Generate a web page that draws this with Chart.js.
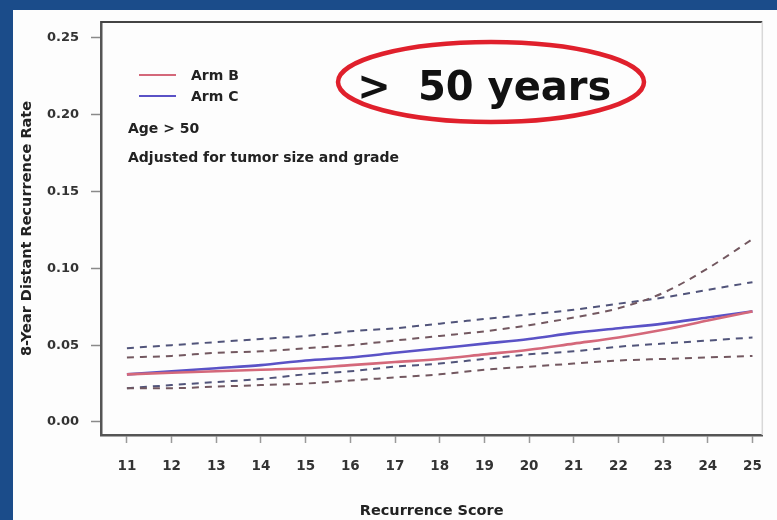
<!DOCTYPE html>
<html>
<head>
<meta charset="utf-8">
<title>8-Year Distant Recurrence Rate by Recurrence Score</title>
<script src="https://cdn.jsdelivr.net/npm/chart.js@4/dist/chart.umd.min.js"></script>
<style>
  html, body { margin: 0; padding: 0; background: #1b4c8a; }
  #wrap { width: 777px; height: 520px; }
</style>
</head>
<body>
<div id="wrap"><canvas id="chart" width="777" height="520"></canvas></div>
<script>
// Recurrence score on the x axis
const scores = [11, 12, 13, 14, 15, 16, 17, 18, 19, 20, 21, 22, 23, 24, 25];

// Estimated 8-year distant recurrence rate, age > 50
const armB      = [0.031, 0.032, 0.033, 0.034, 0.035, 0.037, 0.039, 0.041, 0.044, 0.047, 0.051, 0.055, 0.060, 0.066, 0.072];
const armC      = [0.031, 0.033, 0.035, 0.037, 0.040, 0.042, 0.045, 0.048, 0.051, 0.054, 0.058, 0.061, 0.064, 0.068, 0.072];

// 95% confidence bands
const armBUpper = [0.042, 0.043, 0.045, 0.046, 0.048, 0.050, 0.053, 0.056, 0.059, 0.063, 0.068, 0.074, 0.084, 0.100, 0.119];
const armBLower = [0.022, 0.022, 0.023, 0.024, 0.025, 0.027, 0.029, 0.031, 0.034, 0.036, 0.038, 0.040, 0.041, 0.042, 0.043];
const armCUpper = [0.048, 0.050, 0.052, 0.054, 0.056, 0.059, 0.061, 0.064, 0.067, 0.070, 0.073, 0.077, 0.081, 0.086, 0.091];
const armCLower = [0.022, 0.024, 0.026, 0.028, 0.031, 0.033, 0.036, 0.038, 0.041, 0.044, 0.046, 0.049, 0.051, 0.053, 0.055];

// Axis ticks
const yTicks = [0.00, 0.05, 0.10, 0.15, 0.20, 0.25];
const xTicks = scores;

const colorB = '#d4687a';
const colorC = '#5a52c6';
const colorBci = '#735860';
const colorCci = '#51547a';

function pts(values) {
  return scores.map((s, i) => ({ x: s, y: values[i] }));
}

function solid(label, values, color) {
  return {
    label, data: pts(values), borderColor: color, backgroundColor: color,
    borderWidth: 2.6, pointRadius: 0, cubicInterpolationMode: 'monotone', fill: false
  };
}
function dashed(label, values, color) {
  return {
    label, data: pts(values), borderColor: color, backgroundColor: color,
    borderWidth: 2, borderDash: [7, 6], pointRadius: 0,
    cubicInterpolationMode: 'monotone', fill: false
  };
}

// Page backdrop, white panel, and the remaining sides of the plot box
const frame = {
  id: 'frame',
  beforeDraw(chart) {
    const ctx = chart.ctx;
    ctx.save();
    ctx.fillStyle = '#1b4c8a';
    ctx.fillRect(0, 0, chart.width, chart.height);
    ctx.fillStyle = '#fdfdfd';
    ctx.fillRect(13, 10, chart.width - 13, chart.height - 10);
    ctx.restore();
  },
  afterDraw(chart) {
    const { left, right, top, bottom } = chart.chartArea;
    const ctx = chart.ctx;
    ctx.save();
    ctx.strokeStyle = '#444';
    ctx.lineWidth = 2;
    ctx.beginPath();
    ctx.moveTo(left, top);
    ctx.lineTo(right, top);
    ctx.stroke();
    ctx.strokeStyle = '#d8d8d8';
    ctx.lineWidth = 1.5;
    ctx.beginPath();
    ctx.moveTo(right, top);
    ctx.lineTo(right, bottom);
    ctx.stroke();
    ctx.restore();
  }
};

// Legend keys and notes inside the plot
const notes = {
  id: 'notes',
  afterDraw(chart) {
    const ctx = chart.ctx;
    const ds = chart.data.datasets;
    ctx.save();
    const keys = [ds[0], ds[1]];
    const ys = [75, 96];
    keys.forEach((d, i) => {
      ctx.strokeStyle = d.borderColor;
      ctx.lineWidth = 2;
      ctx.beginPath();
      ctx.moveTo(139, ys[i]);
      ctx.lineTo(176, ys[i]);
      ctx.stroke();
      ctx.fillStyle = '#222';
      ctx.font = 'bold 14px "DejaVu Sans"';
      ctx.textBaseline = 'middle';
      ctx.textAlign = 'left';
      ctx.fillText(d.label, 191, ys[i] + 1);
    });
    ctx.font = 'bold 14px "DejaVu Sans"';
    ctx.fillText('Age > 50', 128, 129);
    ctx.fillText('Adjusted for tumor size and grade', 128, 158);

    // Highlighted age group
    ctx.strokeStyle = '#e0202c';
    ctx.lineWidth = 4.5;
    ctx.beginPath();
    ctx.ellipse(491, 82, 153, 40, 0, 0, Math.PI * 2);
    ctx.stroke();
    ctx.fillStyle = '#111';
    ctx.font = 'bold 40px "DejaVu Sans"';
    ctx.textBaseline = 'alphabetic';
    ctx.textAlign = 'center';
    ctx.fillText('>', 374, 100);
    ctx.textAlign = 'left';
    ctx.fillText('50 years', 418, 100);
    ctx.restore();
  }
};

Chart.defaults.font.family = '"DejaVu Sans", sans-serif';

new Chart(document.getElementById('chart'), {
  type: 'line',
  data: {
    datasets: [
      solid('Arm B', armB, colorB),
      solid('Arm C', armC, colorC),
      dashed('Arm B upper 95% CI', armBUpper, colorBci),
      dashed('Arm B lower 95% CI', armBLower, colorBci),
      dashed('Arm C upper 95% CI', armCUpper, colorCci),
      dashed('Arm C lower 95% CI', armCLower, colorCci)
    ]
  },
  options: {
    responsive: false,
    animation: false,
    layout: { padding: { left: 0, top: 22, right: 9, bottom: 0 } },
    plugins: { legend: { display: false }, tooltip: { enabled: false } },
    scales: {
      x: {
        type: 'linear',
        min: 10.42,
        max: 25.22,
        afterBuildTicks(scale) { scale.ticks = xTicks.map(v => ({ value: v })); },
        afterFit(scale) { scale.height = 85; },
        ticks: {
          color: '#333',
          font: { size: 13.5, weight: 'bold' },
          padding: 15,
          maxRotation: 0,
          autoSkip: false,
          callback: v => String(v)
        },
        grid: { drawOnChartArea: false, drawTicks: true, tickLength: 8, tickColor: '#9a9a9a', tickWidth: 1.5 },
        border: { display: true, color: '#555', width: 2.5 },
        title: {
          display: true,
          text: 'Recurrence Score',
          color: '#222',
          font: { size: 14.5, weight: 'bold' },
          padding: { top: 0, bottom: 0 }
        }
      },
      y: {
        type: 'linear',
        min: -0.0085,
        max: 0.2604,
        afterBuildTicks(scale) { scale.ticks = yTicks.map(v => ({ value: v })); },
        afterFit(scale) { scale.width = 101; },
        ticks: {
          color: '#333',
          font: { size: 13, weight: 'bold' },
          padding: 12,
          callback: v => Number(v).toFixed(2)
        },
        grid: { drawOnChartArea: false, drawTicks: true, tickLength: 10, tickColor: '#8a8a8a', tickWidth: 1.5 },
        border: { display: true, color: '#555', width: 2.5 },
        title: {
          display: true,
          text: '8-Year Distant Recurrence Rate',
          color: '#222',
          font: { size: 14.5, weight: 'bold' },
          padding: { top: 19, bottom: 0 }
        }
      }
    }
  },
  plugins: [frame, notes]
});
</script>
</body>
</html>
